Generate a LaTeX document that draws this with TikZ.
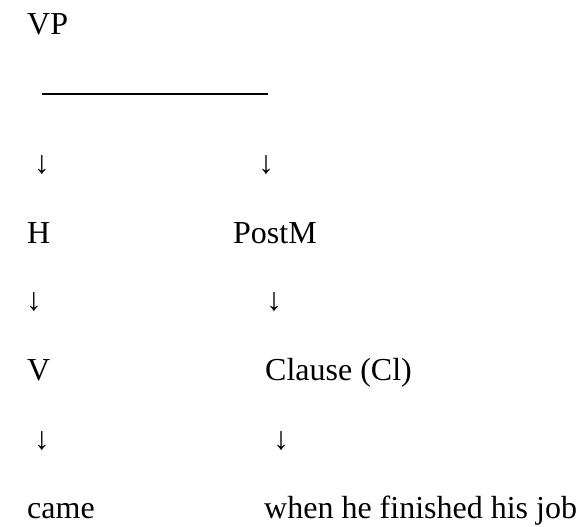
\documentclass[tikz,border=0pt]{standalone}
\usepackage{fontspec}
\setmainfont{Liberation Serif}
\begin{document}
\begin{tikzpicture}[x=1pt,y=-1pt]
			% Styles (MODIFIABLES)
			\tikzstyle{mot}=[anchor=base west,inner sep=0pt,font=\fontsize{32}{38}\selectfont]
			\tikzstyle{fleche}=[anchor=center,inner sep=0pt,font=\fontsize{32}{38}\selectfont]
			\tikzstyle{barre}=[-,line width=2pt]
			% Dimensions (MODIFIABLES)
			\def\ColonneG{27}
			\def\LigneA{35}
			\def\LigneB{243}
			\def\LigneC{380}
			\def\LigneD{518}
			\useasboundingbox (0,0) rectangle (579,527);
			% Noeuds (MODIFIABLES)
			\node[mot] (VP) at (\ColonneG,\LigneA) {VP};
			\coordinate (barreG) at (42,94);
			\coordinate (barreD) at (268,94);
			\node[fleche] (Fa) at (42,165) {↓};
			\node[fleche] (Fb) at (266,165) {↓};
			%
			\node[mot] (H) at (\ColonneG,\LigneB) {H};
			\node[mot] (PostM) at (233,\LigneB) {PostM};
			\node[fleche] (Faa) at (34,302) {↓};
			\node[fleche] (Fba) at (274,302) {↓};
			%
			\node[mot] (V) at (\ColonneG,\LigneC) {V};
			\node[mot] (Cl) at (265,\LigneC) {Clause (Cl)};
			\node[fleche] (Faaa) at (42,441) {↓};
			\node[fleche] (Fbaa) at (281,441) {↓};
			%
			\node[mot] (came) at (\ColonneG,\LigneD) {came};
			\node[mot] (when) at (264,\LigneD) {when he finished his job};
			% Arcs (MODIFIABLES : Styles)
			\draw[barre] (barreG)--(barreD);
		\end{tikzpicture}
\end{document}
